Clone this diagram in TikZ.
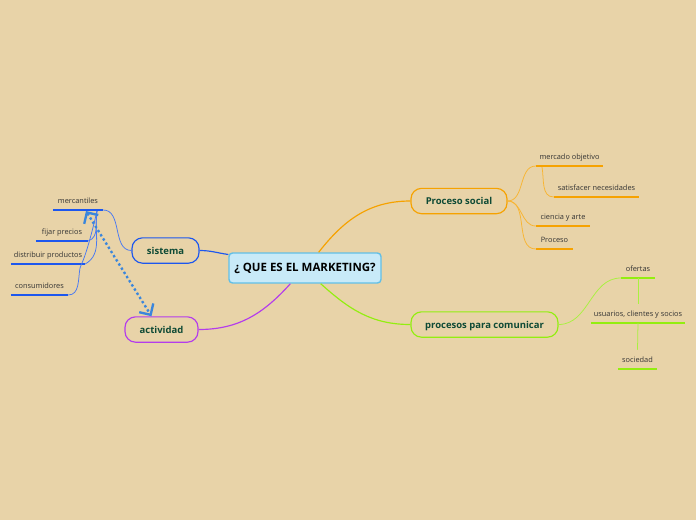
\documentclass[tikz,border=0pt]{standalone}
\usepackage{fontspec}
\setmainfont{Open Sans}
\usetikzlibrary{arrows.meta}
\definecolor{bgcol}{HTML}{E8D3A8}
\definecolor{topictext}{HTML}{0E4A35}
\definecolor{centrefill}{HTML}{C8EAF8}
\definecolor{centreline}{HTML}{62BFE6}
\definecolor{sistcol}{HTML}{1D57EE}
\definecolor{actcol}{HTML}{B43CEC}
\definecolor{procol}{HTML}{F6A200}
\definecolor{comcol}{HTML}{93EE10}
\definecolor{linkcol}{HTML}{3A86DC}

\begin{document}
\begin{tikzpicture}[x=0.03cm, y=0.03cm,
  central/.style={draw=centreline, line width=1.2pt, rounded corners=3pt,
    fill=centrefill, text=black, font=\fontsize{9.8}{11}\selectfont\bfseries,
    minimum width=4.56cm, minimum height=0.9cm},
  topic/.style={draw=#1, line width=1pt, rounded corners=9pt, text=topictext,
    font=\fontsize{8.1}{9}\selectfont\bfseries, text height=1.6ex,
    text depth=0.4ex, minimum height=0.76cm},
  leaf/.style={anchor=south, inner xsep=0pt, inner ysep=2.4pt, text=black!80,
    font=\fontsize{6.3}{7}\selectfont, text height=1.6ex, text depth=0.5ex},
  uline/.style={line width=1.3pt, #1},
  main/.style={line width=1pt, #1},
  sub/.style={line width=0.65pt, #1!80},
  link/.style={{Straight Barb[angle=90:10pt]}-{Straight Barb[angle=90:10pt]},
    line width=2pt, linkcol, dash pattern=on 2pt off 2.2pt}]
\fill[bgcol] (0,0) rectangle (696,-520);
\useasboundingbox (0,0) rectangle (696,-520);
% centre and topics
\node[central] (cen) at (305,-268) {¿ QUE ES EL MARKETING?};
\node[topic=sistcol, minimum width=2.01cm] (sis) at (165.5,-250.5) {sistema};
\node[topic=actcol, minimum width=2.19cm] (act) at (161.5,-329.5) {actividad};
\node[topic=procol, minimum width=2.88cm] (ps) at (459,-201) {Proceso social};
\node[topic=comcol, minimum width=4.41cm] (pc) at (484.5,-324.5) {procesos para comunicar};
% leaves
\node[leaf, minimum width=1.5cm] (merc) at (78,-210) {mercantiles};
\node[leaf, minimum width=1.56cm] (fij) at (62,-241) {fijar precios};
\node[leaf, minimum width=2.22cm] (dis) at (48,-264) {distribuir productos};
\node[leaf, minimum width=1.71cm] (con) at (39.5,-295) {consumidores};
\node[leaf, minimum width=2.01cm] (mo) at (569.5,-166) {mercado objetivo};
\node[leaf, minimum width=2.55cm] (sn) at (596.5,-197) {satisfacer necesidades};
\node[leaf, minimum width=1.62cm] (ca) at (563,-226) {ciencia y arte};
\node[leaf, minimum width=1.11cm] (pr) at (554.5,-249) {Proceso};
\node[leaf, minimum width=1.02cm] (of) at (638,-278) {ofertas};
\node[leaf, minimum width=2.82cm] (us) at (638,-323) {usuarios, clientes y socios};
\node[leaf, minimum width=1.17cm] (so) at (637.5,-369) {sociedad};
\foreach \n/\c in {merc/sistcol, fij/sistcol, dis/sistcol, con/sistcol,
    mo/procol, sn/procol, ca/procol, pr/procol, of/comcol, us/comcol, so/comcol}
  \draw[uline=\c] (\n.south west) -- (\n.south east);
% main branches
\draw[main=sistcol] (sis.east) to[out=0, in=172] (cen.170);
\draw[main=actcol] (act.east) to[out=0, in=228] (cen.227);
\draw[main=procol] (cen.49) to[out=52, in=180] (ps.west);
\draw[main=comcol] (cen.315) to[out=-42, in=180] (pc.west);
% sistema branches
\coordinate (mj) at (97,-211);
\draw[sub=sistcol] (sis.west) to[out=180, in=0] (merc.south east);
\draw[sub=sistcol] (mj) to[out=-100, in=20] (fij.south east);
\draw[sub=sistcol] (mj) to[out=-100, in=30] (dis.south east);
\draw[sub=sistcol] (mj) .. controls (86,-258) and (82,-262) .. (80,-268)
  to[out=-100, in=0] (con.south east);
% Proceso social branches
\coordinate (sj) at (542,-167);
\draw[sub=procol] (ps.east) to[out=0, in=180] (mo.south west);
\draw[sub=procol] (ps.east) to[out=0, in=180] (ca.south west);
\draw[sub=procol] (ps.east) to[out=0, in=180] (pr.south west);
\draw[sub=procol] (sj) to[out=-80, in=180] (sn.south west);
% procesos para comunicar branches
\draw[sub=comcol] (pc.east) to[out=0, in=180] (of.south west);
\draw[sub=comcol] (of.south) -- (us.north);
\draw[sub=comcol] (us.south) -- (so.north);
% relation
\coordinate (mtip) at (86,-211);
\draw[link] (mtip) -- (act.127);
\end{tikzpicture}
\end{document}
